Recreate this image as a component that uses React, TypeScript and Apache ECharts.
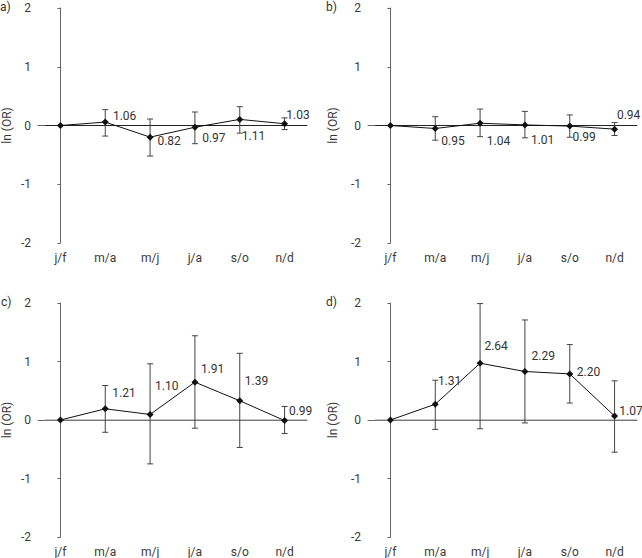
import React, { useEffect, useRef } from "react";
import * as echarts from "echarts";

const categories = ["j/f", "m/a", "m/j", "j/a", "s/o", "n/d"];

// Panel a
const aLabels = [null, "1.06", "0.82", "0.97", "1.11", "1.03"];
const aLnOR = [0, 0.058, -0.198, -0.03, 0.104, 0.03];
const aLow = [null, -0.18, -0.52, -0.31, -0.13, -0.07];
const aHigh = [null, 0.27, 0.11, 0.23, 0.32, 0.13];

// Panel b
const bLabels = [null, "0.95", "1.04", "1.01", "0.99", "0.94"];
const bLnOR = [0, -0.051, 0.039, 0.01, -0.01, -0.062];
const bLow = [null, -0.25, -0.19, -0.21, -0.2, -0.17];
const bHigh = [null, 0.15, 0.28, 0.24, 0.18, 0.05];

// Panel c
const cLabels = [null, "1.21", "1.10", "1.91", "1.39", "0.99"];
const cLnOR = [0, 0.191, 0.095, 0.647, 0.329, -0.01];
const cLow = [null, -0.21, -0.75, -0.14, -0.47, -0.23];
const cHigh = [null, 0.59, 0.96, 1.44, 1.14, 0.23];

// Panel d
const dLabels = [null, "1.31", "2.64", "2.29", "2.20", "1.07"];
const dLnOR = [0, 0.27, 0.971, 0.829, 0.788, 0.068];
const dLow = [null, -0.16, -0.15, -0.05, 0.29, -0.55];
const dHigh = [null, 0.68, 1.99, 1.71, 1.29, 0.67];

// label placement (style): [dx to text left, dy to text centre]
const aOffsets = [null, [7.7, -5.7], [7.3, 3.7], [7.3, 11], [2, 17], [1.7, -8.3]];
const bOffsets = [null, [6, 12.7], [6.7, 17.3], [6, 14.7], [2.7, 11.3], [2.3, -14.3]];
const cOffsets = [null, [7, -16], [5, -28], [6, -13], [5, -19.3], [4.3, -10]];
const dOffsets = [null, [2.7, -23.3], [4.3, -17.3], [6.7, -15.7], [7, -2.3], [4.7, -5]];

const FONT = "Roboto";

const panels = [
  { name: "a)", labels: aLabels, ln: aLnOR, low: aLow, high: aHigh, offs: aOffsets, grid: { left: 38, top: 8, width: 269, height: 235 }, zero: "#222", nameGap: 25, tagX: 0, tagY: 8 },
  { name: "b)", labels: bLabels, ln: bLnOR, low: bLow, high: bHigh, offs: bOffsets, grid: { left: 368, top: 8, width: 269, height: 235 }, zero: "#222", nameGap: 29, tagX: 326, tagY: 8 },
  { name: "c)", labels: cLabels, ln: cLnOR, low: cLow, high: cHigh, offs: cOffsets, grid: { left: 38, top: 303, width: 269, height: 236 }, zero: "#888", nameGap: 25, tagX: 1, tagY: 303 },
  { name: "d)", labels: dLabels, ln: dLnOR, low: dLow, high: dHigh, offs: dOffsets, grid: { left: 368, top: 303, width: 269, height: 236 }, zero: "#888", nameGap: 29, tagX: 326, tagY: 303 },
];

export default function App() {
  const ref = useRef<HTMLDivElement>(null);
  useEffect(() => {
    if (!ref.current) return;
    const chart = echarts.init(ref.current, null, { renderer: "svg" });
    const grid: any[] = [];
    const xAxis: any[] = [];
    const yAxis: any[] = [];
    const series: any[] = [];
    const graphic: any[] = [];
    panels.forEach((p, gi) => {
      grid.push({ ...p.grid, containLabel: false });
      xAxis.push({
        type: "category",
        gridIndex: gi,
        data: categories,
        boundaryGap: true,
        axisLine: { lineStyle: { color: "#666", width: 1 } },
        axisTick: { show: false },
        axisLabel: { color: "#3a3a3a", fontSize: 12, fontFamily: FONT, margin: 9 },
        splitLine: { show: false },
      });
      xAxis.push({
        type: "value",
        gridIndex: gi,
        min: -0.5,
        max: 5.5,
        show: false,
      });
      yAxis.push({
        type: "value",
        gridIndex: gi,
        min: -2,
        max: 2,
        interval: 1,
        name: "ln (OR)",
        nameLocation: "middle",
        nameRotate: 90,
        nameGap: p.nameGap,
        nameTextStyle: { color: "#3a3a3a", fontSize: 12, fontFamily: FONT },
        axisLine: { show: true, lineStyle: { color: "#666", width: 1 } },
        axisTick: { show: true, length: 3, lineStyle: { color: "#666" } },
        axisLabel: { color: "#3a3a3a", fontSize: 12, fontFamily: FONT, margin: 7 },
        splitLine: { show: false },
      });
      // zero reference line
      series.push({
        type: "line",
        xAxisIndex: gi * 2 + 1,
        yAxisIndex: gi,
        data: [[-0.34, 0], [5.5, 0]],
        symbol: "none",
        lineStyle: { color: p.zero, width: 1 },
        silent: true,
        z: 1,
      });
      // error bars
      const ebData: any[] = [];
      p.low.forEach((lo, i) => {
        if (lo !== null && p.high[i] !== null) ebData.push([i, lo, p.high[i]]);
      });
      series.push({
        type: "custom",
        xAxisIndex: gi * 2,
        yAxisIndex: gi,
        data: ebData,
        encode: { x: 0, y: [1, 2] },
        z: 2,
        renderItem: (params: any, api: any) => {
          const x = api.value(0);
          const lo = api.coord([x, api.value(1)]);
          const hi = api.coord([x, api.value(2)]);
          const cw = 3;
          const st = { stroke: "#444", lineWidth: 1 };
          return {
            type: "group",
            children: [
              { type: "line", shape: { x1: lo[0], y1: lo[1], x2: hi[0], y2: hi[1] }, style: st },
              { type: "line", shape: { x1: lo[0] - cw, y1: lo[1], x2: lo[0] + cw, y2: lo[1] }, style: st },
              { type: "line", shape: { x1: hi[0] - cw, y1: hi[1], x2: hi[0] + cw, y2: hi[1] }, style: st },
            ],
          };
        },
      });
      // points + labels
      series.push({
        type: "line",
        xAxisIndex: gi * 2,
        yAxisIndex: gi,
        symbol: "diamond",
        symbolSize: 7,
        z: 3,
        itemStyle: { color: "#111" },
        lineStyle: { color: "#111", width: 1 },
        data: p.ln.map((v, i) => {
          const off = p.offs[i];
          const txt = p.labels[i];
          if (!off || !txt) return { value: v, label: { show: false } };
          return {
            value: v,
            label: {
              show: true,
              position: "right",
              distance: 0,
              offset: [off[0] - 3.5, off[1]],
              formatter: txt,
              color: "#333",
              fontSize: 12,
              fontFamily: FONT,
            },
          };
        }),
      });
      graphic.push({
        type: "text",
        left: p.tagX,
        top: p.tagY - 7,
        style: { text: p.name, fill: "#333", fontSize: 12, fontFamily: FONT },
      });
    });
    chart.setOption({
      animation: false,
      backgroundColor: "#fff",
      grid,
      xAxis,
      yAxis,
      series,
      graphic,
    });
    return () => chart.dispose();
  }, []);
  return (
    <div
      ref={ref}
      style={{ position: "absolute", left: 0, top: 0, width: 642, height: 558 }}
    />
  );
}
